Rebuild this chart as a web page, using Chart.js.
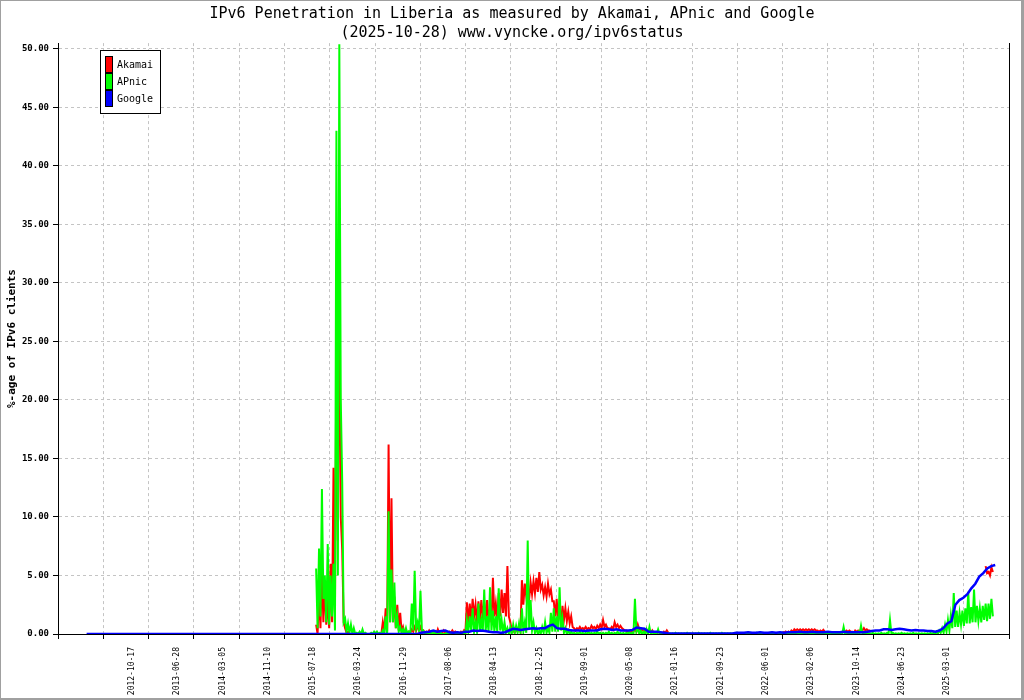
<!DOCTYPE html>
<html>
<head>
<meta charset="utf-8">
<title>IPv6 Penetration in Liberia</title>
<script src="https://cdn.jsdelivr.net/npm/chart.js@4.4.0/dist/chart.umd.min.js"></script>
<style>
  body { margin: 0; background: #fff; }
</style>
</head>
<body>
<canvas id="canvas1" width="1024" height="700"></canvas>
<script>
// x values are measurement sample numbers (roughly one per day)
var dateLabels = [
  "2012-10-17", "2013-06-28", "2014-03-05", "2014-11-10", "2015-07-18",
  "2016-03-24", "2016-11-29", "2017-08-06", "2018-04-13", "2018-12-25",
  "2019-09-01", "2020-05-08", "2021-01-16", "2021-09-23", "2022-06-01",
  "2023-02-06", "2023-10-14", "2024-06-23", "2025-03-01"
];
var labelIdx = [250, 500, 750, 1000, 1250, 1500, 1750, 2000, 2250, 2500,
  2750, 3000, 3250, 3500, 3750, 4000, 4250, 4500, 4750];
var gridIdx = [-158, 92, 342, 592, 842, 1092, 1342, 1592, 1842, 2092, 2342,
  2592, 2842, 3092, 3342, 3592, 3842, 4092, 4342, 4592, 4842, 5092];
var yTicks = [0, 5, 10, 15, 20, 25, 30, 35, 40, 45, 50];

// Akamai and APnic: highest and lowest daily value in each block of 16 samples,
// starting at sample 1267
var ribbonStart = 1267;
var ribbonStep = 16;
var akamaiHigh = [
  0.8, 3.5, 5.8, 4.5, 3.0, 6.0, 14.2, 24.8, 32.4, 7.2,
  0.5, 0.2, 0, 0, 0, 0, 0, 0, 0, 0,
  0, 0, 0, 1.0, 2.2, 16.2, 11.6, 3.2, 2.5, 1.8,
  0.6, 0.3, 0.2, 0.4, 0.6, 0.8, 0.6, 0.3, 0.2, 0.3,
  0.2, 0.1, 0.4, 0.2, 0.3, 0.1, 0.2, 0.3, 0.2, 0.1,
  0.2, 0.3, 2.7, 2.6, 3.0, 2.5, 2.8, 2.9, 2.6, 2.9,
  2.2, 4.8, 2.6, 3.5, 3.8, 3.5, 5.8, 1.0, 0.3, 0.4,
  0.5, 4.6, 4.3, 4.0, 4.4, 4.5, 4.8, 5.3, 4.2, 4.0,
  4.3, 3.8, 2.8, 3.0, 2.0, 2.4, 2.2, 1.9, 1.5, 0.5,
  0.5, 0.6, 0.5, 0.6, 0.5, 0.7, 0.6, 0.7, 0.8, 1.2,
  0.8, 0.5, 0.6, 1.0, 0.8, 0.7, 0.4, 0.3, 0.2, 0.3,
  0.4, 0.8, 0.5, 0.3, 0.4, 0.2, 0.3, 0.1, 0.2, 0.1,
  0.2, 0.3, null, null, null, null, null, null, null, null,
  null, null, null, null, null, null, null, null, null, null,
  null, null, null, null, null, null, null, null, null, null,
  null, null, null, null, null, null, null, null, null, null,
  null, 0.2, 0.2, 0.2, 0.3, 0.4, 0.4, 0.4, 0.4, 0.4,
  0.4, 0.4, 0.4, 0.3, 0.3, 0.35, null, null, null, null,
  null, 0.2, 0.3, 0.3, 0.3, 0.2, 0.3, 0.3, 0.4, 0.5,
  0.4, 0.3, null, null, null, null, null, null, null, null,
  null, null, null, null, null, null, null, null, null, null,
  null, null, null, null, null, null, null, null, null, null,
  null, null, null, null, null, null, null, null, null, null,
  null, 5.8, 5.3, 5.7
];
var akamaiLow = [
  0, 0.5, 1.0, 0.8, 0.5, 1.0, 2.0, 8, 10, 1.0,
  0.1, 0, 0, 0, 0, 0, 0, 0, 0, 0,
  0, 0, 0, 0.2, 0.2, 1.0, 1.0, 0.5, 0.3, 0.2,
  0.1, 0.1, 0.1, 0.2, 0.3, 0.3, 0.2, 0.1, 0.1, 0.1,
  0.1, 0, 0.1, 0.1, 0.1, 0, 0.1, 0.1, 0.1, 0,
  0.1, 0.1, 1.0, 1.2, 1.5, 1.0, 1.2, 1.5, 1.2, 1.0,
  1.0, 1.5, 1.2, 1.5, 1.8, 1.5, 1.5, 0.3, 0.1, 0.2,
  0.2, 2.5, 3.2, 3.0, 3.4, 3.5, 3.6, 3.8, 3.3, 3.2,
  3.4, 2.8, 1.5, 1.2, 1.0, 1.2, 1.1, 0.9, 0.6, 0.3,
  0.4, 0.4, 0.4, 0.4, 0.4, 0.5, 0.4, 0.5, 0.5, 0.6,
  0.5, 0.4, 0.4, 0.6, 0.5, 0.5, 0.3, 0.2, 0.1, 0.2,
  0.2, 0.4, 0.3, 0.2, 0.2, 0.1, 0.1, 0, 0.1, 0,
  0.1, 0.1, null, null, null, null, null, null, null, null,
  null, null, null, null, null, null, null, null, null, null,
  null, null, null, null, null, null, null, null, null, null,
  null, null, null, null, null, null, null, null, null, null,
  null, 0.1, 0.1, 0.1, 0.2, 0.3, 0.3, 0.3, 0.3, 0.3,
  0.3, 0.3, 0.3, 0.2, 0.2, 0.2, null, null, null, null,
  null, 0.1, 0.2, 0.2, 0.2, 0.1, 0.2, 0.2, 0.3, 0.3,
  0.3, 0.2, null, null, null, null, null, null, null, null,
  null, null, null, null, null, null, null, null, null, null,
  null, null, null, null, null, null, null, null, null, null,
  null, null, null, null, null, null, null, null, null, null,
  null, 5.2, 5.0, 5.3
];
var apnicHigh = [
  5.6, 7.3, 12.4, 5.0, 7.7, 5.0, 6.0, 43, 50.4, 13,
  1.3, 0.9, 0.8, 0.5, 0.1, 0.2, 0.4, 0.1, 0.0, 0.1,
  0.2, 0.2, 0.1, 0.3, 1.5, 10.5, 5.5, 4.4, 1.5, 0.6,
  0.4, 0.5, 0.2, 2.6, 5.4, 1.0, 3.7, 0.3, 0.1, 0.1,
  0.2, 0.1, 0.0, 0.1, 0.0, 0.1, 0.0, 0.1, 0.0, 0.1,
  0.1, 0.2, 1.2, 1.5, 2.2, 1.0, 2.6, 1.2, 3.8, 1.5,
  4.0, 2.0, 1.5, 3.9, 1.2, 1.0, 0.5, 0.6, 0.8, 0.7,
  0.9, 2.2, 1.0, 8.0, 2.9, 1.0, 0.5, 0.3, 0.6, 1.0,
  0.5, 1.8, 2.2, 1.5, 4.0, 1.3, 0.5, 0.3, 0.2, 0.1,
  0.1, 0.2, 0.1, 0.1, 0.2, 0.1, 0.1, 0.2, 0.1, 0.1,
  0.1, 0.2, 0.1, 0.1, 0.2, 0.1, 0.1, 0.1, 0.2, 0.1,
  3.0, 0.5, 0.3, 0.2, 0.4, 0.6, 0.2, 0.1, 0.4, 0.1,
  0.05, 0.1, 0.05, 0.05, 0.1, 0.05, 0.05, 0.05, 0.1, 0.05,
  0.05, 0.05, 0.1, 0.05, 0.05, 0.05, 0.1, 0.05, 0.05, 0.05,
  0.1, 0.05, 0.05, 0.05, 0.05, 0.1, 0.05, 0.05, 0.05, 0.1,
  0.05, 0.05, 0.1, 0.05, 0.05, 0.05, 0.05, 0.1, 0.05, 0.05,
  0.05, 0.1, 0.05, 0.05, 0.05, 0.1, 0.05, 0.05, 0.1, 0.05,
  0.05, 0.05, 0.1, 0.05, 0.05, 0.1, 0.05, 0.05, 0.05, 0.1,
  0.05, 0.1, 0.6, 0.1, 0.05, 0.1, 0.05, 0.2, 0.7, 0.1,
  0.05, 0.05, 0.1, 0.05, 0.05, 0.1, 0.05, 0.1, 1.2, 0.1,
  0.05, 0.05, 0.1, 0.05, 0.05, 0.05, 0.1, 0.05, 0.05, 0.05,
  0.05, 0.05, 0.1, 0.1, 0.2, 0.3, 0.5, 0.8, 1.2, 1.6,
  3.5, 2.0, 1.8, 2.0, 2.2, 3.6, 2.3, 3.8, 2.4, 2.2,
  2.4, 2.6, 2.6, 3.0
];
var apnicLow = [
  0.5, 1.5, 3.0, 1.0, 0.8, 1.5, 0.3, 5, 20, 1.0,
  0.2, 0.1, 0, 0, 0, 0, 0, 0, 0, 0,
  0, 0, 0, 0, 0, 1.0, 1.0, 0.5, 0.2, 0.1,
  0, 0, 0, 0.3, 0.5, 0.2, 0.3, 0, 0, 0,
  0, 0, 0, 0, 0, 0, 0, 0, 0, 0,
  0, 0, 0.2, 0.3, 0.2, 0.2, 0.3, 0.2, 0.3, 0.2,
  0.3, 0.2, 0.2, 0.3, 0.1, 0.1, 0, 0, 0.1, 0.1,
  0.1, 0.2, 0.1, 0.5, 0.3, 0.1, 0, 0, 0.1, 0.1,
  0.1, 0.2, 0.2, 0.2, 0.3, 0.1, 0, 0, 0, 0,
  0, 0, 0, 0, 0, 0, 0, 0, 0, 0,
  0, 0, 0, 0, 0, 0, 0, 0, 0, 0,
  0.2, 0, 0, 0, 0, 0, 0, 0, 0, 0,
  0, 0, 0, 0, 0, 0, 0, 0, 0, 0,
  0, 0, 0, 0, 0, 0, 0, 0, 0, 0,
  0, 0, 0, 0, 0, 0, 0, 0, 0, 0,
  0, 0, 0, 0, 0, 0, 0, 0, 0, 0,
  0, 0, 0, 0, 0, 0, 0, 0, 0, 0,
  0, 0, 0, 0, 0, 0, 0, 0, 0, 0,
  0, 0, 0, 0, 0, 0, 0, 0, 0, 0,
  0, 0, 0, 0, 0, 0, 0, 0, 0, 0,
  0, 0, 0, 0, 0, 0, 0, 0, 0, 0,
  0, 0, 0, 0, 0, 0.1, 0.1, 0.2, 0.3, 0.5,
  0.6, 0.6, 0.8, 0.7, 0.9, 0.9, 1.0, 1.0, 1.1, 1.0,
  1.2, 1.1, 1.3, 1.5
];

// Google is read every 22 samples from sample 0
var googleStart = 0;
var googleStep = 22;
var google = [
  0, 0, 0, 0, 0, 0, 0, 0, 0, 0, 0, 0, 0, 0, 0, 0, 0, 0, 0, 0,
  0, 0, 0, 0, 0, 0, 0, 0, 0, 0, 0, 0, 0, 0, 0, 0, 0, 0, 0, 0,
  0, 0, 0, 0, 0, 0, 0, 0, 0, 0, 0, 0, 0, 0, 0, 0, 0, 0, 0, 0,
  0, 0, 0, 0, 0, 0, 0, 0, 0, 0, 0, 0, 0, 0, 0, 0, 0, 0, 0, 0,
  0, 0, 0, 0,
  0.1, 0.15, 0.2, 0.3, 0.2, 0.25, 0.3, 0.15, 0.1, 0.15,
  0.1, 0.2, 0.2, 0.3, 0.25, 0.3, 0.25, 0.2, 0.15, 0.15,
  0.1, 0.15, 0.3, 0.45, 0.4, 0.35, 0.4, 0.45, 0.5, 0.45,
  0.5, 0.5, 0.7, 0.8, 0.5, 0.45, 0.45, 0.35, 0.3, 0.3,
  0.3, 0.25, 0.3, 0.3, 0.3, 0.4, 0.45, 0.4, 0.35, 0.4,
  0.3, 0.3, 0.3, 0.35, 0.55, 0.5, 0.45, 0.2, 0.2, 0.2,
  0.15, 0.1, 0.05, 0.05, 0.05, 0.05, 0.05, 0.05, 0.05, 0.05,
  0.05, 0.05, 0.05, 0.05, 0.05, 0.05, 0.05, 0.05, 0.05, 0.1,
  0.1, 0.1, 0.15, 0.1, 0.1, 0.15, 0.1, 0.1, 0.15, 0.1,
  0.15, 0.1, 0.15, 0.15, 0.15, 0.2, 0.15, 0.15, 0.2, 0.15,
  0.15, 0.15, 0.2, 0.15, 0.15, 0.15, 0.2, 0.15, 0.15, 0.15,
  0.15, 0.15, 0.2,
  0.25, 0.3, 0.3, 0.4, 0.4, 0.35, 0.4, 0.45, 0.4, 0.35,
  0.3, 0.35, 0.3, 0.3, 0.25, 0.25, 0.2, 0.3, 0.5, 0.9,
  1.1, 2.5, 2.9, 3.1, 3.4, 3.9, 4.3, 4.9, 5.2, 5.6, 5.8, 5.9
];

function toPoints(start, step, values) {
  return values.map(function (v, i) {
    return { x: start + i * step, y: v };
  });
}

// each block gives its high then its low, half a block later
function toRibbon(start, step, highs, lows) {
  var pts = [];
  highs.forEach(function (h, i) {
    pts.push({ x: start + i * step, y: h });
    pts.push({ x: start + i * step + step / 2, y: lows[i] });
  });
  return pts;
}

Chart.defaults.font.family = '"DejaVu Sans Mono", monospace';
Chart.defaults.color = '#000';

var gridColor = '#c4c4c4';

// legend as a small framed box inside the plot, like the original
var boxLegend = {
  id: 'boxLegend',
  afterDatasetsDraw: function (chart) {
    var ctx = chart.ctx, a = chart.chartArea;
    var x = Math.round(a.left + 42), y = Math.round(a.top + 7);
    ctx.save();
    ctx.fillStyle = '#fff';
    ctx.fillRect(x, y, 60, 63);
    ctx.strokeStyle = '#000';
    ctx.lineWidth = 1;
    ctx.strokeRect(x + 0.5, y + 0.5, 60, 63);
    ctx.font = '10px "DejaVu Sans Mono"';
    ctx.textBaseline = 'middle';
    chart.data.datasets.forEach(function (ds, i) {
      var sy = y + 7 + i * 17;
      ctx.fillStyle = ds.borderColor;
      ctx.fillRect(x + 6, sy, 6, 15);
      ctx.strokeStyle = '#000';
      ctx.strokeRect(x + 5.5, sy - 0.5, 7, 16);
      ctx.fillStyle = '#000';
      ctx.fillText(ds.label, x + 17, sy + 8);
    });
    ctx.restore();
  }
};

var frame = {
  id: 'frame',
  afterDraw: function (chart) {
    var ctx = chart.ctx;
    ctx.save();
    ctx.strokeStyle = '#a0a0a0';
    ctx.lineWidth = 1;
    ctx.strokeRect(0.5, 0.5, chart.width - 1, chart.height - 1);
    ctx.fillStyle = '#a0a0a0';
    ctx.fillRect(chart.width - 3, 0, 3, chart.height);
    ctx.fillRect(0, chart.height - 2, chart.width, 2);
    ctx.restore();
  }
};

new Chart(document.getElementById('canvas1'), {
  type: 'line',
  data: {
    datasets: [{
      label: 'Akamai',
      data: toRibbon(ribbonStart, ribbonStep, akamaiHigh, akamaiLow),
      borderColor: '#ff0000',
      backgroundColor: '#ff0000',
      borderWidth: 2,
      order: 2
    }, {
      label: 'APnic',
      data: toRibbon(ribbonStart, ribbonStep, apnicHigh, apnicLow),
      borderColor: '#00ff00',
      backgroundColor: '#00ff00',
      borderWidth: 2,
      order: 1
    }, {
      label: 'Google',
      data: toPoints(googleStart, googleStep, google),
      borderColor: '#0000ff',
      backgroundColor: '#0000ff',
      borderWidth: 2.5,
      order: 0
    }]
  },
  options: {
    responsive: false,
    animation: false,
    devicePixelRatio: 1,
    spanGaps: false,
    elements: {
      line: { tension: 0 },
      point: { radius: 0, hoverRadius: 0 }
    },
    layout: { padding: 0 },
    plugins: {
      legend: { display: false },
      tooltip: { enabled: false },
      title: {
        display: true,
        text: ['IPv6 Penetration in Liberia as measured by Akamai, APnic and Google',
               '(2025-10-28) www.vyncke.org/ipv6status'],
        font: { size: 15, weight: 'normal', lineHeight: 1.25 },
        color: '#000',
        padding: { top: 5, bottom: 0.6 }
      }
    },
    scales: {
      x: {
        type: 'linear',
        position: 'bottom',
        min: -158,
        max: 5092,
        weight: 1,
        grid: { display: false, drawTicks: false },
        border: { display: false },
        ticks: {
          autoSkip: false,
          maxRotation: 90,
          minRotation: 90,
          padding: 8,
          font: { size: 8 },
          color: '#000',
          callback: function (v, i) { return dateLabels[i]; }
        },
        afterBuildTicks: function (s) {
          s.ticks = labelIdx.map(function (v) { return { value: v }; });
        },
        afterFit: function (s) { s.height = 61; }
      },
      xg: {
        type: 'linear',
        position: 'bottom',
        min: -158,
        max: 5092,
        weight: 0,
        grid: { color: gridColor, tickColor: '#000', tickLength: 5 },
        border: { display: true, color: '#000', dash: [3, 3] },
        ticks: { display: false },
        afterBuildTicks: function (s) {
          s.ticks = gridIdx.map(function (v) { return { value: v }; });
        },
        afterFit: function (s) { s.height = 5; }
      },
      y: {
        type: 'linear',
        position: 'left',
        min: 0,
        max: 50.5,
        grid: { color: gridColor, tickColor: '#000', tickLength: 5 },
        border: { display: true, color: '#000', dash: [3, 3] },
        ticks: {
          padding: 4,
          font: { size: 9, weight: 'bold' },
          color: '#000',
          callback: function (v) { return v.toFixed(2); }
        },
        afterBuildTicks: function (s) {
          s.ticks = yTicks.map(function (v) { return { value: v }; });
        },
        title: {
          display: true,
          text: '%-age of IPv6 clients',
          font: { size: 11, weight: 'bold' },
          color: '#000',
          padding: { top: 6, bottom: 0 }
        },
        afterFit: function (s) { s.width = 58; }
      },
      yr: {
        type: 'linear',
        position: 'right',
        min: 0,
        max: 50.5,
        grid: { display: false, drawTicks: false },
        border: { display: true, color: '#000' },
        ticks: { display: false },
        afterFit: function (s) { s.width = 15; }
      }
    }
  },
  plugins: [boxLegend, frame]
});
</script>
</body>
</html>
